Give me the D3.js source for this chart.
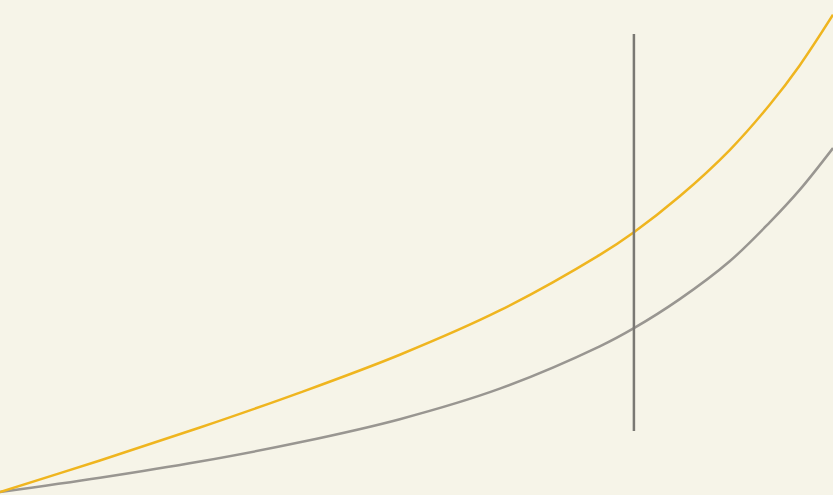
<!DOCTYPE html>
<html><head><meta charset="utf-8">
<script src="https://cdn.jsdelivr.net/npm/d3@7"></script>
<style>html,body{margin:0;padding:0;background:#f6f4e8;}svg{display:block;}</style>
</head><body><svg id="c" width="833" height="495"></svg>
<script>
const xs = [0, 12, 24, 36, 48, 60, 72, 76.1, 81.6, 87.6, 92.4, 96, 100];
const seriesA = [0, 6.4, 13.1, 20.2, 27.9, 36.9, 48.2, 52.8, 60.1, 69.5, 78.7, 86.7, 97.0];
const seriesB = [0, 2.9, 6.2, 10.1, 14.8, 21.0, 29.6, 33.3, 39.2, 46.9, 54.8, 61.4, 69.9];
const markerX = 76.1;
const markerRange = [12.4, 93.1];

const svg = d3.select("#c");
const x = d3.scaleLinear().domain([0, 100]).range([0, 833]);
const y = d3.scaleLinear().domain([0, 100]).range([492, 0]);
const line = d3.line().x((d, i) => x(xs[i])).y(d => y(d)).curve(d3.curveCatmullRom);

svg.append("rect").attr("width", 833).attr("height", 495).attr("fill", "#f6f4e8");
svg.append("path").datum(seriesB).attr("d", line).attr("fill", "none")
  .attr("stroke", "#999691").attr("stroke-width", 2.5);
svg.append("path").datum(seriesA).attr("d", line).attr("fill", "none")
  .attr("stroke", "#efb51f").attr("stroke-width", 2.5);
svg.append("line").attr("x1", x(markerX)).attr("x2", x(markerX))
  .attr("y1", y(markerRange[0])).attr("y2", y(markerRange[1]))
  .attr("stroke", "#7a7873").attr("stroke-width", 2.5);
</script></body></html>
